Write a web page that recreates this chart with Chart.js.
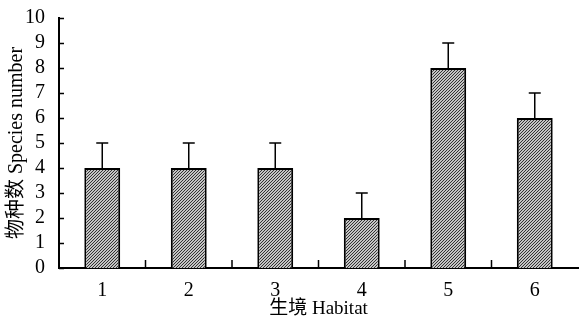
<!DOCTYPE html>
<html>
<head>
<meta charset="utf-8">
<script src="https://cdn.jsdelivr.net/npm/chart.js@4"></script>
<style>
  body { margin: 0; background: #fff; }
  #wrap { width: 580px; height: 320px; }
</style>
</head>
<body>
<div id="wrap"><canvas id="myChart" width="580" height="320"></canvas></div>
<script>
var habitats = ["1", "2", "3", "4", "5", "6"];
var speciesNumber = [4, 4, 4, 2, 8, 6];
var errors = [1, 1, 1, 1, 1, 1];
var yTicks = [0, 1, 2, 3, 4, 5, 6, 7, 8, 9, 10];

var ctx = document.getElementById("myChart").getContext("2d");

// fine diagonal hatching like the original print
function hatch() {
  var c = document.createElement("canvas");
  c.width = 3;
  c.height = 3;
  var g = c.getContext("2d");
  g.fillStyle = "#c4c4c4";
  g.fillRect(0, 0, 3, 3);
  g.strokeStyle = "#333";
  g.lineWidth = 1;
  g.beginPath();
  g.moveTo(0, 3); g.lineTo(3, 0);
  g.moveTo(-1, 1); g.lineTo(1, -1);
  g.moveTo(2, 4); g.lineTo(4, 2);
  g.stroke();
  return ctx.createPattern(c, "repeat");
}

var serif = "'Liberation Serif', 'Noto Sans CJK SC', serif";

var errorBars = {
  id: "errorBars",
  afterDatasetsDraw: function (chart) {
    var c = chart.ctx;
    var y = chart.scales.y;
    var meta = chart.getDatasetMeta(0);
    c.save();
    c.strokeStyle = "#000";
    c.lineWidth = 1.5;
    meta.data.forEach(function (bar, i) {
      var top = y.getPixelForValue(speciesNumber[i] + errors[i]);
      c.beginPath();
      c.moveTo(bar.x, bar.y);
      c.lineTo(bar.x, top);
      c.moveTo(bar.x - 6, top);
      c.lineTo(bar.x + 6, top);
      c.stroke();
    });
    c.restore();
  },
};

// ticks drawn inside the plot area
var innerTicks = {
  id: "innerTicks",
  afterDraw: function (chart) {
    var c = chart.ctx;
    var x = chart.scales.x;
    var y = chart.scales.y;
    var a = chart.chartArea;
    c.save();
    c.strokeStyle = "#000";
    c.lineWidth = 1.5;
    c.beginPath();
    yTicks.forEach(function (v) {
      var py = Math.round(y.getPixelForValue(v)) + 0.5;
      c.moveTo(a.left, py);
      c.lineTo(a.left + 5, py);
    });
    for (var i = 0; i < habitats.length - 1; i++) {
      var px = (x.getPixelForValue(i) + x.getPixelForValue(i + 1)) / 2;
      c.moveTo(px, a.bottom);
      c.lineTo(px, a.bottom - 8);
    }
    c.stroke();
    c.restore();
  },
};

var myChart = new Chart(ctx, {
  type: "bar",
  data: {
    labels: habitats,
    datasets: [
      {
        data: speciesNumber,
        backgroundColor: hatch(),
        borderColor: "#000",
        borderWidth: 2,
        borderSkipped: "bottom",
        barPercentage: 0.83,
        categoryPercentage: 0.5,
      },
    ],
  },
  options: {
    responsive: false,
    animation: false,
    layout: {
      padding: { top: 18, right: 2, left: 0, bottom: 0 },
    },
    plugins: {
      legend: { display: false },
      tooltip: { enabled: false },
    },
    scales: {
      y: {
        min: 0,
        max: 10,
        afterFit: function (s) { s.width = 59; },
        grid: { display: false },
        border: { color: "#000", width: 2 },
        ticks: {
          stepSize: 1,
          autoSkip: false,
          padding: 6,
          color: "#000",
          font: { family: serif, size: 20 },
        },
        title: {
          display: true,
          text: "物种数 Species number",
          color: "#000",
          padding: { top: 5, bottom: 0 },
          font: { family: serif, size: 20 },
        },
      },
      x: {
        afterFit: function (s) { s.height = 52; },
        grid: { display: false },
        border: { color: "#000", width: 2 },
        ticks: {
          padding: 3,
          color: "#000",
          font: { family: serif, size: 20 },
        },
        title: {
          display: true,
          text: "生境 Habitat",
          color: "#000",
          padding: { top: 0, bottom: 0 },
          font: { family: serif, size: 19 },
        },
      },
    },
  },
  plugins: [errorBars, innerTicks],
});
</script>
</body>
</html>
